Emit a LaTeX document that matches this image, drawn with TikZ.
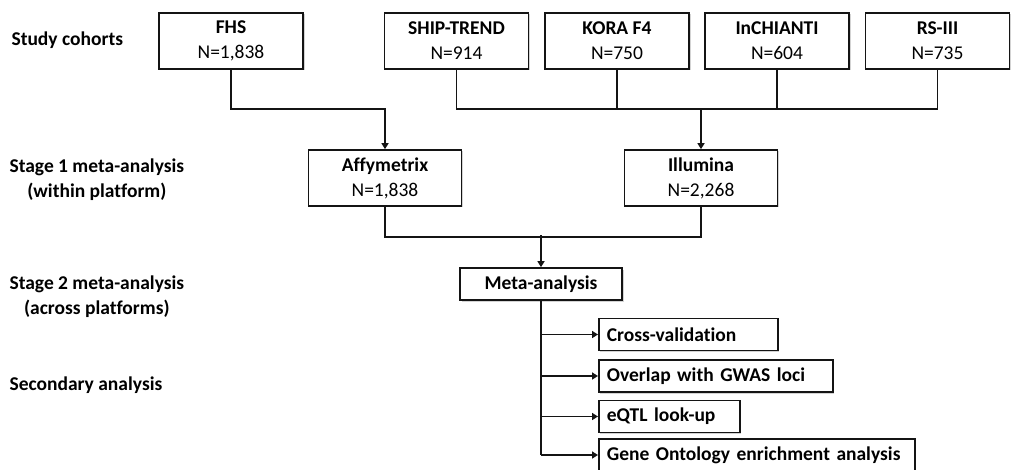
\documentclass[tikz,border=0pt]{standalone}
\usepackage{fontspec}
\setmainfont{Carlito}[Ligatures=NoCommon]
\usepackage{tikz}
\usetikzlibrary{
  arrows.meta,
  positioning,
  calc,
  shadows
}
\definecolor{myblack}{RGB}{20,20,20}
\definecolor{mygray}{RGB}{120,120,120}
\tikzset{
  cohort/.style={
    rectangle, draw=myblack, fill=white, line width=1.7pt,
    minimum width=144pt, minimum height=56pt, inner sep=2pt,
    align=center, font=\fontsize{19.5}{25}\selectfont,
    drop shadow={opacity=0.35, shadow xshift=1.5pt, shadow yshift=-1.5pt}
  },
  platform/.style={cohort, minimum width=153pt},
  metabox/.style={cohort, minimum width=162pt, minimum height=32pt,
    font=\fontsize{19.5}{25}\selectfont\bfseries},
  branchbox/.style={
    rectangle, draw=myblack, fill=white, line width=1.7pt,
    anchor=west, minimum height=32pt, inner xsep=8pt, inner ysep=2pt,
    align=left, font=\fontsize{19.5}{25}\selectfont\bfseries,
    drop shadow={opacity=0.35, shadow xshift=1.5pt, shadow yshift=-1.5pt}
  },
  stagelabel/.style={anchor=west, align=center,
    font=\fontsize{19.5}{25}\selectfont\bfseries},
  line/.style={draw, line width=1.7pt, myblack},
  arrow/.style={line, -{Triangle[length=6pt, width=7pt]}},
}
\begin{document}
\begin{tikzpicture}[x=1pt, y=-1pt]

		\useasboundingbox (0,0) rectangle (1011,470);

		%% ── Row 1: Study cohorts ──
		\node[cohort] (fhs)  at (231,41)   {\textbf{FHS}\\N=1,838};
		\node[cohort] (ship) at (456.5,41) {\textbf{SHIP-TREND}\\N=914};
		\node[cohort] (kora) at (617,41)   {\textbf{KORA F4}\\N=750};
		\node[cohort] (inch) at (777,41)   {\textbf{InCHIANTI}\\N=604};
		\node[cohort] (rs)   at (937.5,41) {\textbf{RS-III}\\N=735};

		%% ── Row 2: Stage 1 (within platform) ──
		\node[platform] (affy) at (385,178) {\textbf{Affymetrix}\\N=1,838};
		\node[platform] (illu) at (701,178) {\textbf{Illumina}\\N=2,268};

		%% ── Row 3: Stage 2 (across platforms) ──
		\node[metabox] (meta) at (541,284) {Meta-analysis};

		%% ── Row 4: Secondary analysis ──
		\node[branchbox, text width=163pt] (cv) at (598,334.5) {Cross-validation};
		\node[branchbox, text width=218pt] (ov) at (598,376)   {Overlap with GWAS loci};
		\node[branchbox, text width=125pt] (eq) at (598,416.5) {eQTL look-up};
		\node[branchbox, text width=300pt] (go) at (598,455)   {Gene Ontology enrichment analysis};

		%% ── Stage labels ──
		\node[stagelabel] (lbcoh) at (8,40)  {Study cohorts};
		\node[stagelabel] (lbst1) at (6,180) {Stage 1 meta-analysis\\(within platform)};
		\node[stagelabel] (lbst2) at (6,297) {Stage 2 meta-analysis\\(across platforms)};
		\node[stagelabel] (lbsec) at (6,385) {Secondary analysis};

		%% ── Cohorts -> platforms ──
		\draw[arrow] (fhs.south) -- ++(0,39) -| (affy.north);
		\draw[line]  (ship.south) -- ++(0,39) -| (rs.south);
		\draw[line]  (kora.south) -- ++(0,39);
		\draw[line]  (inch.south) -- ++(0,39);
		\coordinate (illbus) at ($(kora.south)+(84,39)$);
		\draw[arrow] (illbus) -- (illu.north);

		%% ── Platforms -> meta-analysis ──
		\draw[line] (affy.south) -- ++(0,30) -| (illu.south);
		\coordinate (metabus) at ($(meta.north)+(0,-32)$);
		\draw[arrow] (metabus) -- (meta.north);

		%% ── Meta-analysis -> secondary ──
		\draw[line] (meta.south) -- (meta.south |- go.west);
		\foreach \b in {cv,ov,eq,go}
			\draw[arrow] (meta.south |- \b.west) -- (\b.west);

	\end{tikzpicture}
\end{document}
